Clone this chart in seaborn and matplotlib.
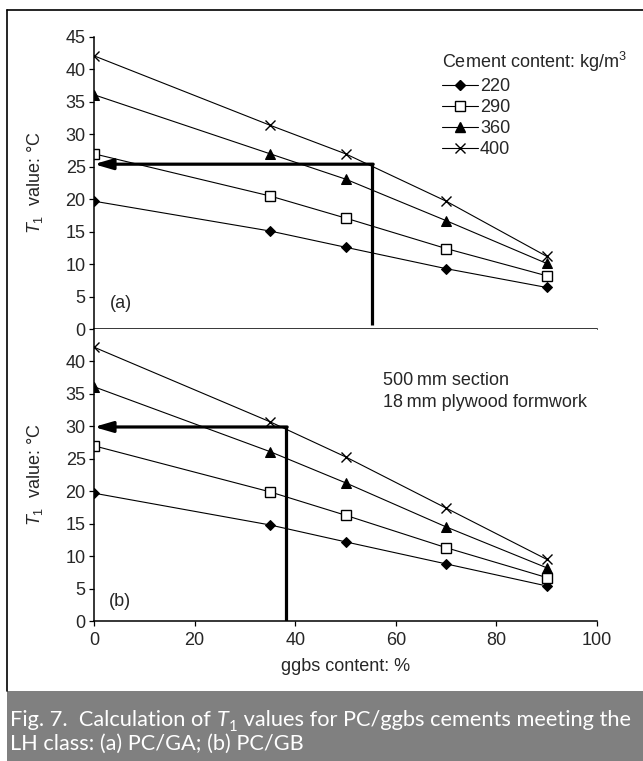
import numpy as np
import pandas as pd
import matplotlib
matplotlib.use("Agg")
import matplotlib.pyplot as plt
import matplotlib.text as mtext
import seaborn as sns
from matplotlib.lines import Line2D
from matplotlib.patches import Rectangle

# ---------------- data ----------------
ggbs = [0, 35, 50, 70, 90]
cement_levels = ["220", "290", "360", "400"]

a_220 = [19.7, 15.1, 12.6, 9.3, 6.4]
a_290 = [27.0, 20.5, 17.1, 12.4, 8.2]
a_360 = [36.1, 27.0, 23.1, 16.7, 10.1]
a_400 = [42.1, 31.4, 27.0, 19.7, 11.2]

b_220 = [19.7, 14.8, 12.2, 8.8, 5.4]
b_290 = [27.0, 19.9, 16.3, 11.3, 6.7]
b_360 = [36.1, 26.1, 21.3, 14.5, 8.2]
b_400 = [42.2, 30.7, 25.3, 17.4, 9.5]

# guide lines: (ggbs %, T1)
guide_a = (55.3, 25.4)
guide_b = (38.2, 29.9)

yticks = [0, 5, 10, 15, 20, 25, 30, 35, 40, 45]
xticks = [0, 20, 40, 60, 80, 100]

panel_a = {"220": a_220, "290": a_290, "360": a_360, "400": a_400}
panel_b = {"220": b_220, "290": b_290, "360": b_360, "400": b_400}

# ---------------- style ----------------
sns.set_theme(style="white")
plt.rcParams["font.family"] = ["Liberation Sans", "DejaVu Sans"]
plt.rcParams["mathtext.fontset"] = "custom"
plt.rcParams["mathtext.rm"] = "Liberation Sans"
plt.rcParams["mathtext.it"] = "Liberation Sans:italic"
plt.rcParams["mathtext.bf"] = "Liberation Sans:bold"

FS = 13
marker_style = {
    "220": dict(marker="D", markersize=5, markerfacecolor="black", markeredgecolor="black"),
    "290": dict(marker="s", markersize=7, markerfacecolor="white", markeredgecolor="black", markeredgewidth=1.0),
    "360": dict(marker="^", markersize=7, markerfacecolor="black", markeredgecolor="black"),
    "400": dict(marker="x", markersize=7, markeredgecolor="black", markeredgewidth=1.0),
}

W, H = 643, 761
fig = plt.figure(figsize=(W / 100, H / 100), dpi=100)

ax_left = 94 / W
ax_w = (597 - 94) / W
ax_h = (621 - 329) / H
ax_a = fig.add_axes([ax_left, 1 - 329 / H, ax_w, ax_h])
ax_b = fig.add_axes([ax_left, 1 - 621 / H, ax_w, ax_h])


def draw_panel(ax, data, guide, show_x):
    for lvl in cement_levels:
        df = pd.DataFrame({"ggbs": ggbs, "T1": data[lvl]})
        sns.lineplot(data=df, x="ggbs", y="T1", ax=ax, color="black", linewidth=0.8,
                     label=lvl, legend=False, **marker_style[lvl])
    ax.set_xlim(0, 100)
    ax.set_ylim(0, 45)
    for s in ["top", "right"]:
        ax.spines[s].set_visible(False)
    for s in ["left", "bottom"]:
        ax.spines[s].set_color("black")
        ax.spines[s].set_linewidth(1.1)
    ax.set_xticks(xticks)
    if show_x:
        ax.tick_params(axis="x", direction="out", length=3.5, width=0.9, color="black",
                       labelsize=FS, pad=4.5, bottom=True)
        ax.set_xlabel("ggbs content: %", fontsize=FS, labelpad=6.5)
    else:
        ax.tick_params(axis="x", bottom=False, labelbottom=False)
        ax.set_xlabel("")
    ax.tick_params(axis="y", direction="out", length=3.5, width=0.9, color="black",
                   labelsize=FS, pad=2.5, left=True)
    ax.set_ylabel(r"$T_1$  value: °C", fontsize=FS)
    ax.yaxis.set_label_coords(-0.097, 0.5)
    gx, gy = guide
    ax.plot([gx, gx], [gy, 0.6 if not show_x else 0], color="black", lw=2.3,
            solid_capstyle="butt")
    ax.annotate("", xy=(0, gy), xytext=(gx + 0.2, gy),
                arrowprops=dict(arrowstyle="-|>,head_length=0.55,head_width=0.16",
                                mutation_scale=20, lw=2.3, color="black",
                                shrinkA=0, shrinkB=0))


draw_panel(ax_a, panel_a, guide_a, show_x=False)
ax_a.set_yticks(yticks)
draw_panel(ax_b, panel_b, guide_b, show_x=True)
ax_b.set_yticks(yticks[:-1])

ax_a.text(5.3, 3.9, "(a)", fontsize=FS, ha="center", va="center")
ax_b.text(5.2, 3.0, "(b)", fontsize=FS, ha="center", va="center")
ax_b.text(57.5, 37.1, "500\u2009mm section", fontsize=FS, ha="left", va="center",
          family=["Liberation Sans", "DejaVu Sans"])
ax_b.text(57.5, 33.6, "18\u2009mm plywood formwork", fontsize=FS, ha="left", va="center",
          family=["Liberation Sans", "DejaVu Sans"])

# legend
handles = [Line2D([0], [0], color="black", lw=0.8, **marker_style[l]) for l in cement_levels]
leg = fig.legend(handles, cement_levels, title=r"Cement content: kg/m$^3$",
                 loc="upper left", bbox_to_anchor=(442 / W, 1 - 50 / H),
                 frameon=False, fontsize=FS, title_fontsize=FS, alignment="left",
                 handlelength=2.0, handletextpad=0.1, labelspacing=0.22,
                 borderpad=0, borderaxespad=0)
leg._legend_box.sep = 3

# border lines and caption band
fig.add_artist(Line2D([7 / W, 1], [1 - 10 / H, 1 - 10 / H], transform=fig.transFigure,
                      color="black", lw=1.2))
fig.add_artist(Line2D([7 / W, 7 / W], [1 - 10 / H, 70 / H], transform=fig.transFigure,
                      color="black", lw=1.2))
fig.add_artist(Rectangle((7 / W, 0), 1, 70 / H, transform=fig.transFigure,
                         facecolor="#808080", edgecolor="none"))

CF = 15.7
cap_kw = dict(color="white", fontsize=CF, family="Lato")
t1 = fig.text(10 / W, 1 - 726 / H, "Fig. 7.  Calculation of ", va="baseline", **cap_kw)
tT = fig.add_artist(mtext.Annotation("T", xy=(1, 0), xycoords=t1,
                                     ha="left", va="bottom", style="italic", **cap_kw))
tS = fig.add_artist(mtext.Annotation("1", xy=(1, 0), xycoords=tT,
                                     xytext=(0.5, -3), textcoords="offset points",
                                     ha="left", va="bottom", color="white",
                                     fontsize=CF * 0.68, family="Lato"))
tR = fig.add_artist(mtext.Annotation(" values for PC/ggbs cements meeting the",
                                     xy=(1, 0), xycoords=(tS, tT),
                                     ha="left", va="bottom", **cap_kw))
fig.text(10 / W, 1 - 750 / H, "LH class: (a) PC/GA; (b) PC/GB", va="baseline", **cap_kw)

fig.savefig("out.png", dpi=100)
